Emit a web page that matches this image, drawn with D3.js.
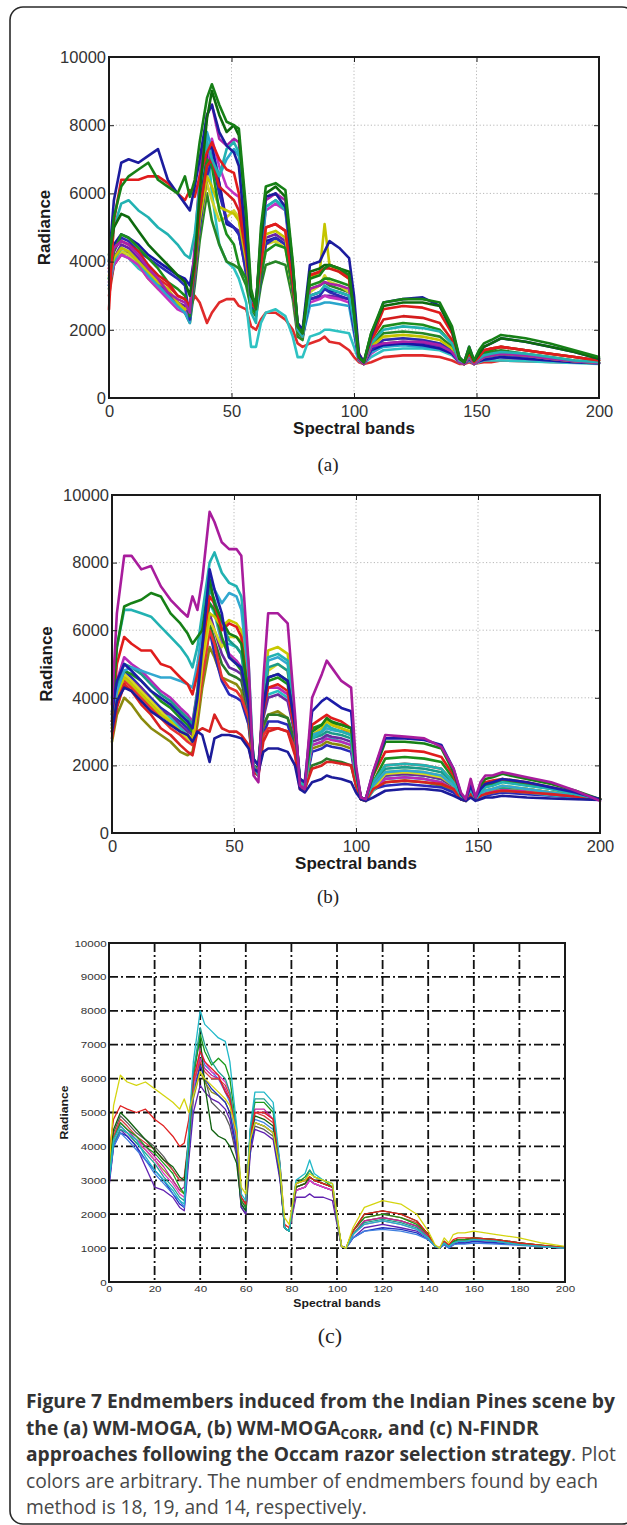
<!DOCTYPE html>
<html><head><meta charset="utf-8">
<script src="https://cdn.jsdelivr.net/npm/d3@7"></script>
<style>body{margin:0;background:#fff;}svg{display:block;}</style>
</head><body>
<script>
// ---------- DATA ----------
const bands = [0,2,5,8,12,16,20,24,28,31, 33,35,37,40,42,45,48,51,53,56, 58,60,62,64,68,72,75,77,79,82,
  86,88,90,94,98,100,102,104,107,112, 120,128,135,140,143,145,147,149,151,153, 156,160,170,180,190,200];
const xTicksAB = [0,50,100,150,200];
const yTicksAB = [0,2000,4000,6000,8000,10000];
const xTicksC = [0,20,40,60,80,100,120,140,160,180,200];
const yTicksC = [0,1000,2000,3000,4000,5000,6000,7000,8000,9000,10000];

// Panel (a): WM-MOGA, 18 endmembers
const a01=[4000,5800,6900,7000,6900,7100,7300,6400,6000,5700, 5500,6200,7000,8300,8600,7800,7400,7200,6800,4500, 3000,2800,4500,5900,6000,5600,3800,2200,2000,3900, 4000,4300,4600,4400,4100,3000,1300,1050,1800,2800, 2900,2950,2700,2000,1200,1050,1500,1100,1300,1500, 1600,1750,1650,1500,1350,1150];
const a02=[2600,5200,6400,6400,6400,6500,6500,6300,6000,5800, 6100,5900,6500,7200,7500,7000,6700,6600,6000,4500, 3000,2700,4000,5000,5100,4900,3500,2200,1900,3600, 3700,3800,3900,3800,3500,2700,1300,1050,1700,2600, 2700,2650,2500,1900,1150,1050,1300,1050,1200,1400, 1450,1500,1400,1300,1200,1100];
const a03=[4000,5300,6200,6500,6700,6900,6400,6200,6000,6500, 5900,6400,7500,8800,9200,8600,8100,8000,7900,5500, 3200,2600,5000,6200,6300,6100,4000,2100,1900,3500, 3600,3800,3900,3800,3600,2500,1200,1050,1900,2800, 2900,2900,2800,2100,1200,1050,1500,1100,1400,1600, 1700,1850,1750,1600,1400,1200];
const a04=[3500,5000,5700,5800,5500,5300,5000,4800,4500,4200, 4100,4800,6200,7500,7000,6500,7300,7500,7200,5000, 2500,2200,4200,5600,5800,5500,3800,2000,1800,3000, 3100,3300,3200,3100,3000,2200,1200,1050,1600,2000, 2100,2050,1950,1600,1100,1050,1250,1050,1150,1250, 1300,1350,1300,1200,1100,1050];
const a05=[3300,4000,4200,4100,3800,3600,3300,3000,2800,2500, 2300,3500,5500,7600,6000,4500,4000,3800,3500,2800, 1500,1500,2200,2500,2600,2400,1800,1200,1200,1800, 1900,2000,2000,1950,1900,1500,1100,1000,1200,1400, 1450,1450,1400,1250,1050,1000,1100,1000,1050,1100, 1100,1100,1080,1050,1030,1000];
const a06=[3000,3900,4200,4300,4000,3800,3500,3300,3000,2900, 2600,3000,2800,2200,2500,2800,2900,2900,2700,2600, 2100,2000,2300,2500,2500,2300,2000,1600,1500,1600, 1700,1800,1650,1600,1400,1200,1050,1000,1050,1200, 1250,1250,1200,1100,1000,1000,1050,1000,1030,1050, 1050,1100,1080,1060,1040,1020];
const a07=[3700,4300,4700,4600,4300,4100,3900,3700,3500,3300, 2300,3800,5000,6500,7000,6000,5200,5000,4800,3700, 2700,2500,3500,4500,4700,4500,3200,1900,1800,2900, 3000,3200,3100,3000,2900,2000,1150,1000,1400,1700, 1750,1700,1600,1400,1100,1000,1200,1000,1100,1200, 1250,1300,1250,1150,1080,1030];
const a08=[3800,4400,4600,4500,4200,3800,3500,3100,2900,2800, 2500,4500,6500,8300,8600,7600,7400,7600,7500,5000, 2900,2700,4800,5800,6000,5800,3600,2000,1900,3200, 3300,3400,3350,3300,3200,2200,1150,1000,1500,1600, 1650,1650,1550,1350,1050,1000,1200,1000,1100,1200, 1250,1300,1250,1150,1080,1030];
const a09=[3600,4100,4400,4300,4000,3700,3400,3200,2800,2600, 2700,3800,5200,6500,6200,5600,5500,5400,5200,4000, 2800,2600,3900,4800,4900,4700,3300,1900,1800,3500, 3700,5100,3900,3700,3500,2300,1150,1000,1500,1800, 1850,1800,1700,1450,1050,1000,1200,1000,1100,1200, 1250,1300,1250,1150,1080,1030];
const a10=[3500,4300,4800,4700,4400,4100,3800,3400,3200,3000, 2400,3800,5400,7000,6800,5500,4800,4500,3900,3500, 2600,2500,3600,4300,4500,4400,3200,1900,1800,3300, 3400,3500,3500,3400,3300,2300,1150,1000,1600,2100, 2200,2150,2000,1600,1100,1000,1300,1050,1200,1350, 1400,1500,1400,1300,1200,1100];
const a11=[3400,4100,4500,4400,4100,3700,3400,3100,2800,2700, 2400,3500,5000,6800,7200,6300,5200,5000,4900,3600, 2700,2500,3600,4700,4800,4600,3200,1900,1800,2900, 2950,3000,3000,2950,2900,2000,1100,1000,1400,1600, 1650,1600,1500,1300,1050,1000,1150,1000,1100,1150, 1200,1250,1200,1120,1060,1020];
const a12=[3200,3900,4300,4200,4000,3700,3400,3100,2800,2500, 2200,3300,4600,6000,5200,4500,4000,3900,3800,3300, 2600,2400,3300,3900,4000,3900,2900,1800,1700,3200, 3300,3400,3300,3200,3100,2100,1100,1000,1500,1900, 1950,1900,1800,1500,1050,1000,1250,1000,1150,1300, 1350,1400,1300,1200,1100,1050];
const a13=[3300,4000,4400,4300,4000,3600,3300,3000,2700,2500, 2200,3800,6000,7800,7300,6500,7000,7300,7100,4800, 2700,2500,4300,5600,5800,5600,3600,1900,1800,2700, 2750,2800,2800,2750,2700,1900,1100,1000,1350,1500, 1550,1500,1450,1300,1050,1000,1150,1000,1080,1120, 1150,1200,1150,1100,1050,1020];
const a14=[3800,4400,4600,4500,4300,3900,3600,3400,3000,2900, 2700,3900,5500,6800,7000,6200,6000,5800,5500,4200, 2800,2600,3900,5000,5100,4900,3400,2000,1800,3600, 3700,3800,3800,3700,3500,2300,1150,1000,1700,2300, 2400,2350,2200,1700,1100,1000,1300,1050,1200,1400, 1450,1500,1400,1300,1200,1100];
const a15=[3900,4500,4800,4700,4500,4200,4000,3800,3600,3500, 3300,4200,5500,7200,7400,6300,5100,5000,4800,3800, 2700,2500,3600,4600,4700,4500,3200,1900,1800,3000, 3100,3200,3150,3100,3000,2100,1150,1000,1400,1550, 1600,1550,1450,1300,1050,1000,1150,1000,1080,1120, 1150,1200,1150,1100,1050,1020];
const a16=[3300,3900,4200,4100,3900,3500,3200,2900,2600,2500, 2400,3700,5300,6900,7600,6800,6200,6000,5900,4200, 2700,2500,4200,5500,5700,5500,3400,1900,1800,2800, 2900,3000,2950,2900,2800,2000,1100,1000,1300,1550, 1600,1550,1450,1300,1050,1000,1150,1000,1080,1120, 1150,1200,1150,1100,1050,1020];
const a17=[4200,5000,5400,5300,4900,4500,4200,3900,3600,3400, 3000,4000,6000,8200,9000,8300,7800,8000,7700,5300, 3000,2700,4700,6000,6200,5900,3900,2100,1900,3700, 3800,3900,3900,3800,3700,2500,1200,1050,1900,2700, 2800,2800,2700,2000,1150,1050,1400,1100,1300,1500, 1600,1750,1650,1500,1350,1150];
const a18=[3500,4000,4300,4200,3900,3500,3200,3000,2700,2600, 2500,3600,5000,6300,5800,5200,5300,5500,5300,3800, 2600,2500,3600,4500,4600,4400,3100,1900,1800,3100, 3300,3600,3400,3300,3100,2100,1100,1000,1450,1700, 1750,1700,1600,1400,1050,1000,1200,1000,1100,1200, 1250,1300,1250,1150,1080,1030];
const seriesA=[a06,a05,a12,a18,a11,a16,a13,a15,a07,a09,a10,a14,a08,a04,a02,a01,a17,a03];
const colorsA=["#e02a2a","#2ec2c2","#268626","#d2d22a","#6c22a6","#c232c2","#2aa6cc","#1616a4","#2a2ab4","#c4c400","#1e8e1e","#d41c1c","#a821a8","#22b2b2","#e01c1c","#1c1c9e","#0e6a0e","#178017"];

// Panel (b): WM-MOGA_CORR, 19 endmembers
const b01=[3800,6500,8200,8200,7800,7900,7300,6900,6600,6400, 7000,6600,7500,9500,9200,8600,8400,8400,8200,5000, 1700,1500,4500,6500,6500,6200,3500,1400,1300,4000, 4700,5100,4900,4500,4300,2000,1050,1000,1800,2900, 2850,2800,2550,1900,1200,1000,1600,1050,1500,1700, 1700,1800,1650,1500,1250,950];
const b02=[3500,5500,6700,6800,6900,7100,7000,6500,6200,5900, 5600,5800,6000,7500,6800,6300,5900,5800,5600,4000, 2200,2000,3800,4600,4700,4500,3200,1600,1500,3000, 3200,3400,3300,3200,3100,1800,1050,1000,1700,2700, 2700,2650,2500,1800,1150,1000,1500,1050,1400,1600, 1650,1750,1600,1450,1250,1000];
const b03=[4000,5500,6600,6600,6500,6400,6100,5800,5500,5200, 4900,5500,6500,8000,8300,7700,7400,7300,7000,5000, 2000,1700,4000,5200,5300,5100,3300,1500,1400,2800, 3000,3200,3100,3000,2900,1700,1050,1000,1500,2000, 2050,2000,1900,1500,1100,1000,1300,1000,1200,1350, 1400,1500,1400,1300,1150,1000];
const b04=[3300,5000,5800,5600,5400,5400,5000,4900,4600,4400, 4100,4700,5500,7000,6800,6000,6200,6100,5800,4000, 2000,1800,3600,4300,4400,4200,3000,1500,1400,3200, 3400,3500,3400,3300,3100,1800,1050,1000,1700,2400, 2450,2400,2250,1700,1100,1000,1400,1050,1300,1500, 1550,1600,1500,1350,1200,1000];
const b05=[3200,4200,4800,4900,4800,4700,4600,4600,4500,4400, 4300,5000,6000,7600,7200,6800,7100,7000,6600,4600, 2000,1800,3900,5100,5200,5000,3200,1500,1400,2900, 3000,3100,3050,3000,2900,1700,1050,1000,1400,1800, 1850,1800,1700,1400,1050,1000,1250,1000,1150,1250, 1300,1400,1300,1200,1100,1000];
const b06=[3000,3900,4300,4200,3900,3600,3400,3200,3000,2900, 2700,3000,2900,2100,2800,2900,2900,2850,2800,2500, 1900,1800,2400,2500,2500,2400,2000,1300,1200,1500, 1600,1700,1650,1600,1500,1200,1000,950,1050,1250, 1300,1300,1250,1100,1000,950,1050,950,1000,1050, 1050,1100,1050,1020,1000,980];
const b07=[3600,4500,5000,4800,4500,4200,4000,3800,3500,3300, 3100,4000,5500,7800,7200,6500,5200,5000,4900,3800, 2200,2000,3700,4600,4700,4500,3200,1600,1500,3600, 3900,4000,3900,3700,3600,1900,1050,1000,1800,2800, 2800,2750,2600,1900,1150,1000,1400,1050,1300,1450, 1500,1600,1500,1350,1200,1000];
const b08=[3100,4100,4600,4400,4100,3800,3500,3300,3000,2900, 2800,3800,5200,6500,6400,6100,6300,6200,6000,4200, 1900,1800,4000,5400,5500,5300,3300,1500,1400,2900, 3100,3300,3200,3100,3000,1700,1050,1000,1350,1800, 1850,1800,1700,1400,1050,1000,1300,1000,1150,1250, 1300,1400,1300,1200,1100,1000];
const b09=[3400,4400,5000,4900,4700,4400,4100,3900,3600,3400, 3200,4200,5800,7200,6900,6200,5700,5500,5300,3900, 1900,1800,3800,4900,5000,4800,3200,1500,1400,2800, 2900,3000,2950,2900,2800,1700,1050,1000,1350,1900, 1950,1900,1800,1450,1050,1000,1250,1000,1150,1250, 1300,1350,1300,1200,1100,1000];
const b10=[3300,4200,4800,4700,4500,4200,3900,3700,3400,3200, 3000,4000,5500,6800,6600,5800,5200,5000,4800,3700, 2000,1900,3600,4500,4600,4400,3000,1500,1400,3100, 3200,3300,3250,3200,3100,1800,1050,1000,1500,2200, 2250,2200,2100,1600,1100,1000,1350,1000,1200,1400, 1450,1550,1450,1300,1150,1000];
const b11=[2800,3700,4400,4200,3800,3500,3100,2900,2600,2400, 2300,3000,3100,3000,3500,3100,3000,3000,2900,2600, 1800,1700,2700,3000,3100,3000,2300,1300,1300,1900, 2000,2100,2100,2050,2000,1400,1000,950,1300,1500, 1550,1500,1450,1300,1000,950,1150,1000,1100,1150, 1200,1250,1200,1150,1080,1000];
const b12=[3200,4200,4600,4500,4300,3900,3600,3500,3200,3000, 2900,3800,5000,6500,6000,5300,4900,4800,4700,3600, 2000,1900,3400,4000,4100,3900,2900,1500,1400,2700, 2800,2900,2850,2800,2700,1700,1050,1000,1300,1700, 1750,1700,1600,1400,1050,1000,1200,1000,1100,1200, 1250,1300,1250,1150,1080,1000];
const b13=[3500,4500,5200,5000,4800,4500,4200,4000,3700,3500, 3300,4200,5600,7500,6700,5700,5300,5100,4900,3700, 2000,1800,3800,4300,4300,4100,3000,1500,1400,2600, 2700,2800,2750,2700,2600,1600,1050,1000,1300,1600, 1650,1600,1500,1300,1050,1000,1200,1000,1100,1200, 1250,1300,1250,1150,1080,1000];
const b14=[2700,3500,4000,3800,3400,3100,2900,2700,2400,2300, 2400,3200,4300,5500,5200,4600,4500,4400,4200,3200, 1800,1700,3100,3500,3600,3400,2700,1400,1300,2500, 2600,2700,2650,2600,2500,1600,1000,950,1250,1500, 1550,1500,1400,1250,1000,950,1150,1000,1080,1150, 1200,1250,1200,1120,1060,1000];
const b15=[3000,4000,4700,4500,4200,3900,3600,3400,3100,2900, 2700,3900,5400,6800,6500,5600,5600,5500,5300,3800, 1800,1700,3500,4100,4200,4000,2900,1400,1300,2600, 2700,2900,2800,2700,2600,1600,1000,950,1250,1600, 1650,1600,1500,1300,1000,950,1150,1000,1080,1150, 1200,1250,1200,1120,1060,1000];
const b16=[3000,4000,4500,4300,4000,3700,3400,3100,2900,2700, 2600,3500,4600,6000,5600,4600,4300,4200,4000,3400, 1900,1800,2900,3100,3100,3000,2500,1400,1300,2800, 3000,3400,3200,3100,2900,1700,1050,1000,1400,2000, 2050,2000,1900,1500,1050,1000,1250,1000,1150,1250, 1300,1350,1300,1200,1100,1000];
const b17=[3100,4000,4600,4400,4100,3800,3500,3300,3000,2800, 2700,3600,4800,6200,5700,5000,4700,4600,4500,3500, 1900,1800,3200,3500,3500,3400,2700,1400,1300,2000, 2100,2200,2150,2100,2000,1400,1000,950,1400,1700, 1750,1700,1600,1350,1000,950,1200,1000,1100,1200, 1250,1300,1250,1150,1080,1000];
const b18=[3300,4300,4800,4600,4300,4000,3700,3500,3300,3100, 2900,3700,4700,6000,5300,4500,4100,4000,3900,3200, 1900,1800,2900,3300,3300,3200,2500,1400,1300,2400, 2500,2600,2550,2500,2400,1500,1000,950,1300,1400, 1450,1400,1350,1200,1000,950,1100,1000,1050,1100, 1150,1200,1150,1100,1050,1000];
const b19=[3200,4100,4700,4500,4200,3900,3600,3300,3000,2800, 2700,3700,5000,6300,6000,5500,5800,5800,5700,4000, 1900,1800,3700,4800,5000,4800,3100,1400,1300,2800, 3000,3200,3100,3000,2900,1700,1050,1000,1300,1750, 1800,1750,1650,1400,1050,1000,1250,1000,1150,1250, 1300,1350,1300,1200,1100,1000];
const seriesB=[b14,b18,b17,b15,b12,b13,b16,b19,b09,b10,b08,b05,b04,b11,b03,b02,b07,b06,b01];
const colorsB=["#8a8a10","#2a2ab8","#2a7a2a","#28c0c0","#6a2aa0","#b82ab8","#e83030","#d8d820","#1a9a8a","#1f8f1f","#c8c800","#30a8d0","#e01c1c","#d82020","#22b2b2","#168016","#1c1ca8","#1a1a9a","#a81c9c"];

// Panel (c): N-FINDR, 14 endmembers
const c01=[3300,5200,6100,5900,5800,5900,5700,5500,5300,5100, 5400,5000,5500,6200,6000,5800,5600,5400,5200,4400, 2800,2600,4200,4700,4600,4400,3300,1900,1700,2900, 3000,3200,3100,3000,2900,2000,1050,1000,1600,2200, 2400,2300,2000,1500,1100,1000,1300,1150,1400,1450, 1450,1500,1400,1300,1150,1050];
const c02=[3800,4800,5200,5100,5000,5100,4800,4600,4300,4000, 4100,4800,6000,6800,6500,6300,6100,5600,5400,4300, 2500,2300,4300,5000,5000,4800,3500,1700,1600,2900, 3000,3100,3000,2900,2800,1900,1050,1000,1500,2000, 2100,2000,1800,1400,1050,1000,1200,1100,1250,1300, 1300,1300,1250,1150,1080,1020];
const c03=[3000,4200,4600,4400,4200,3700,3300,3000,2700,2400, 2300,4500,6500,8000,7600,7400,7200,7100,6500,4600, 2600,2400,4600,5600,5600,5300,3500,1600,1500,3000, 3200,3600,3200,3000,2900,1900,1050,1000,1400,1700, 1800,1700,1550,1300,1050,1000,1150,1050,1150,1200, 1200,1250,1200,1100,1050,1000];
const c04=[3100,4200,4700,4500,4300,4000,3800,3500,3200,2800, 2600,4000,6000,7300,6800,6400,6600,6400,6000,4500, 2400,2200,4500,5300,5300,5000,3400,1600,1500,2900, 3100,3300,3100,3000,2800,1900,1050,1000,1500,1900, 2000,1900,1700,1400,1050,1000,1200,1050,1200,1250, 1250,1300,1250,1150,1080,1020];
const c05=[3400,4500,5000,4800,4500,4200,3900,3600,3400,3100, 3000,4200,6200,7200,5800,4500,4300,4200,4000,3500, 2300,2100,4200,4900,4800,4600,3200,1600,1500,2800, 2900,3100,3000,2900,2800,1800,1050,1000,1500,2000, 2100,2000,1800,1400,1050,1000,1200,1050,1200,1250, 1250,1300,1250,1150,1080,1020];
const c06=[3200,4300,4700,4500,4200,4000,3700,3400,3000,2700, 2800,4200,5800,6600,6300,6100,6000,5700,5400,4300, 2400,2200,4400,5100,5100,4800,3300,1600,1500,2700, 2800,3000,2900,2800,2700,1800,1050,1000,1400,1800, 1900,1800,1650,1350,1050,1000,1150,1050,1150,1200, 1200,1250,1200,1100,1050,1000];
const c07=[2800,4000,4500,4300,4000,3400,2800,2700,2500,2200, 2100,3600,5000,5800,5600,5400,5300,5100,4800,3800, 2200,2000,3800,4500,4400,4200,3000,1600,1500,2500, 2500,2600,2500,2500,2400,1700,1050,1000,1300,1600, 1700,1600,1500,1300,1050,1000,1100,1000,1100,1150, 1150,1200,1150,1100,1050,1000];
const c08=[2900,4000,4400,4300,4000,3600,3300,3000,2600,2300, 2200,3800,5500,6400,6000,5700,5500,5300,5000,3900, 2300,2100,4000,4700,4600,4400,3100,1600,1500,2700, 2800,3000,2900,2800,2700,1800,1050,1000,1300,1500, 1600,1550,1450,1250,1050,1000,1100,1000,1100,1150, 1150,1200,1150,1100,1050,1000];
const c09=[3000,4100,4500,4400,4100,3800,3500,3100,2800,2500, 2400,4400,6200,7500,7000,6500,6200,6000,5600,4400, 2500,2300,4500,5400,5400,5100,3400,1600,1500,2900, 3000,3300,3100,3000,2900,1900,1050,1000,1400,1750, 1850,1750,1600,1300,1050,1000,1150,1050,1150,1200, 1200,1250,1200,1100,1050,1000];
const c10=[3300,4300,4800,4600,4300,4100,3900,3600,3300,3000, 3100,4300,5900,6500,6200,6000,6000,5800,5500,4400, 2500,2300,4300,5000,4900,4700,3300,1600,1500,2800, 2900,3100,3000,2900,2800,1900,1050,1000,1500,1900, 2000,1900,1750,1400,1050,1000,1200,1050,1200,1250, 1250,1300,1250,1150,1080,1020];
const c11=[3100,4200,4600,4400,4100,3900,3600,3300,3000,2700, 2600,3900,5400,6200,5900,5600,5500,5300,5000,4000, 2400,2200,4100,4700,4600,4400,3100,1600,1500,2800, 2900,3100,3000,2900,2800,1800,1050,1000,1400,1800, 1900,1800,1650,1350,1050,1000,1150,1050,1150,1200, 1200,1250,1200,1100,1050,1000];
const c12=[3000,4000,4400,4200,3900,3600,3200,2900,2600,2400, 2200,3900,5600,6800,6400,6200,6000,5600,5300,4100, 2300,2100,4200,4800,4700,4500,3200,1600,1500,2700, 2800,3000,2900,2800,2700,1800,1050,1000,1300,1500, 1550,1500,1400,1250,1050,1000,1100,1000,1100,1120, 1120,1150,1120,1080,1040,1000];
const c13=[3200,4200,4600,4400,4200,3900,3600,3200,2900,2600, 2500,4000,5700,6900,6500,6200,6100,5900,5600,4400, 2500,2300,4300,5000,5000,4800,3300,1600,1500,2700, 2800,3000,2900,2800,2700,1800,1050,1000,1400,1700, 1800,1700,1550,1300,1050,1000,1150,1050,1150,1200, 1200,1250,1200,1100,1050,1000];
const c14=[3300,4400,4900,4700,4400,4200,4000,3700,3300,3000, 3000,4100,5600,6400,6000,5300,5100,4900,4600,3700, 2200,2000,4000,4600,4500,4300,3100,1600,1500,2800, 2900,3100,3000,2900,2800,1800,1050,1000,1400,1800, 1900,1800,1650,1350,1050,1000,1150,1050,1150,1200, 1200,1250,1200,1100,1050,1000];
const seriesC=[c14,c11,c07,c08,c12,c06,c13,c10,c05,c04,c09,c02,c03,c01];
const colorsC=["#5a5a5a","#909020","#6020b0","#2030c0","#4080e0","#c020a0","#e040c0","#d84040","#106010","#1a9a1a","#20a090","#e02020","#20b8c8","#d4d410"];

const subLabels=["(a)","(b)","(c)"];
const axisTitleX="Spectral bands", axisTitleY="Radiance";

// ---------- DRAW ----------
const svg=d3.select("body").append("svg").attr("width",627).attr("height",1525);
const defs=svg.append("defs");
defs.append("filter").attr("id","soft").attr("x","-5%").attr("y","-5%").attr("width","110%").attr("height","110%")
  .append("feGaussianBlur").attr("stdDeviation",0.45);

svg.append("rect").attr("x",10).attr("y",7).attr("width",625).attr("height",1517)
  .attr("rx",13).attr("fill","none").attr("stroke","#2a2a2a").attr("stroke-width",1.6);

function drawPanel(p){
  const x=d3.scaleLinear().domain([0,200]).range([p.x0,p.x1]);
  const y=d3.scaleLinear().domain([0,10000]).range([p.y1,p.y0]);
  const g=svg.append("g");
  const gx=p.xTicks.filter(v=>v>0&&v<200), gy=p.yTicks.filter(v=>v>0&&v<10000);
  g.append("g").selectAll("line").data(gx).join("line")
    .attr("x1",d=>x(d)).attr("x2",d=>x(d)).attr("y1",p.y0).attr("y2",p.y1)
    .attr("stroke",p.gridColor).attr("stroke-width",p.gridW).attr("stroke-dasharray",p.gridDash);
  g.append("g").selectAll("line").data(gy).join("line")
    .attr("y1",d=>y(d)).attr("y2",d=>y(d)).attr("x1",p.x0).attr("x2",p.x1)
    .attr("stroke",p.gridColor).attr("stroke-width",p.gridW).attr("stroke-dasharray",p.gridDash);

  const line=d3.line().x((d,i)=>x(bands[i])).y(d=>y(d));
  g.append("g").attr("filter","url(#soft)").selectAll("path").data(p.series).join("path")
    .attr("d",line).attr("fill","none").attr("stroke",(d,i)=>p.colors[i])
    .attr("stroke-width",p.lw).attr("stroke-linejoin","round").attr("stroke-linecap","round");

  const fmt=d3.format("d");
  const styleAx=(sel)=>{sel.select(".domain").remove();
    sel.attr("font-family","'Liberation Sans',Arial,sans-serif").attr("font-size",p.fs).attr("color","#222");
    sel.selectAll("text").attr("fill","#333");
    if(p.textScale!==1) sel.selectAll("text").attr("transform",`scale(${p.textScale},1)`);
  };
  g.append("g").attr("transform",`translate(${p.x0},0)`)
    .call(d3.axisLeft(y).tickValues(p.yTicks).tickFormat(fmt).tickSizeInner(p.tick).tickSizeOuter(0).tickPadding(p.padY)).call(styleAx);
  g.append("g").attr("transform",`translate(0,${p.y1})`)
    .call(d3.axisBottom(x).tickValues(p.xTicks).tickFormat(fmt).tickSizeInner(p.tick).tickSizeOuter(0).tickPadding(p.padX)).call(styleAx);
  if(p.tick<0){
    g.append("g").attr("transform",`translate(${p.x1},0)`)
      .call(d3.axisRight(y).tickValues(p.yTicks).tickFormat(()=>"").tickSizeInner(p.tick).tickSizeOuter(0)).call(styleAx);
    g.append("g").attr("transform",`translate(0,${p.y0})`)
      .call(d3.axisTop(x).tickValues(p.xTicks).tickFormat(()=>"").tickSizeInner(p.tick).tickSizeOuter(0)).call(styleAx);
  }
  g.append("rect").attr("x",p.x0).attr("y",p.y0).attr("width",p.x1-p.x0).attr("height",p.y1-p.y0)
    .attr("fill","none").attr("stroke","#1a1a1a").attr("stroke-width",p.boxW);

  g.append("text").attr("transform",`translate(${(p.x0+p.x1)/2},${p.xtY}) scale(${p.textScale},1)`)
    .attr("text-anchor","middle").attr("font-family","'Liberation Sans',Arial,sans-serif")
    .attr("font-weight","bold").attr("font-size",p.tfs).attr("fill","#1a1a1a").text(axisTitleX);
  g.append("text").attr("transform",`translate(${p.ytX},${(p.y0+p.y1)/2}) rotate(-90) scale(${p.textScale},1)`)
    .attr("text-anchor","middle").attr("font-family","'Liberation Sans',Arial,sans-serif")
    .attr("font-weight","bold").attr("font-size",p.tfs).attr("fill","#1a1a1a").text(axisTitleY);
  g.append("text").attr("x",p.labX).attr("y",p.labY).attr("text-anchor","middle")
    .attr("font-family","'Liberation Serif','DejaVu Serif',serif").attr("font-size",p.labFs)
    .attr("fill","#222").text(p.label);
}

const abStyle={xTicks:xTicksAB,yTicks:yTicksAB,gridColor:"#b8b8b8",gridW:1,gridDash:"1.2,2.2",
  lw:2.6,fs:16.5,tick:-5,padY:3,padX:7,boxW:2,textScale:1,tfs:17,labFs:19};
drawPanel(Object.assign({},abStyle,{x0:109,x1:599,y0:57,y1:398,series:seriesA,colors:colorsA,
  xtY:434,ytX:50,label:subLabels[0],labX:328,labY:471}));
drawPanel(Object.assign({},abStyle,{x0:112,x1:600,y0:495,y1:833,series:seriesB,colors:colorsB,
  xtY:869,ytX:52,label:subLabels[1],labX:328,labY:903}));
drawPanel({x0:109,x1:565,y0:943,y1:1282,series:seriesC,colors:colorsC,xTicks:xTicksC,yTicks:yTicksC,
  gridColor:"#111",gridW:1.8,gridDash:"9,3,2,3",lw:1.3,fs:9.5,tick:0,padY:2,padX:3,boxW:2,textScale:1.22,
  tfs:10,xtY:1307,ytX:68,label:subLabels[2],labX:330,labY:1343,labFs:22});

// ---------- CAPTION ----------
const capLines=[
  [{t:"Figure 7 Endmembers induced from the Indian Pines scene by",b:1}],
  [{t:"the (a) WM-MOGA, (b) WM-MOGA",b:1},{t:"CORR",b:1,sub:1},{t:", and (c) N-FINDR",b:1}],
  [{t:"approaches following the Occam razor selection strategy",b:1},{t:". Plot",b:0}],
  [{t:"colors are arbitrary. The number of endmembers found by each",b:0}],
  [{t:"method is 18, 19, and 14, respectively.",b:0}]
];
const cap=svg.append("g").attr("font-family","'Open Sans',sans-serif");
let fs=19;
const texts=capLines.map((parts,li)=>{
  const t=cap.append("text").attr("x",26).attr("y",1408+li*26.5).attr("font-size",fs);
  parts.forEach((p,pi)=>{
    const ts=t.append("tspan").text(p.t).attr("font-weight",p.b?"bold":"normal").attr("fill",p.b?"#333":"#484848");
    if(p.sub){ts.attr("font-size",fs*0.7).attr("dy",4).attr("class","sub");}
    else if(pi>0 && parts[pi-1].sub){ts.attr("dy",-4);}
  });
  return t;
});
const w=texts[0].node().getComputedTextLength();
const target=589;
fs=fs*target/w;
texts.forEach(t=>{t.attr("font-size",fs);t.selectAll("tspan.sub").attr("font-size",fs*0.7);});
</script>
</body></html>
